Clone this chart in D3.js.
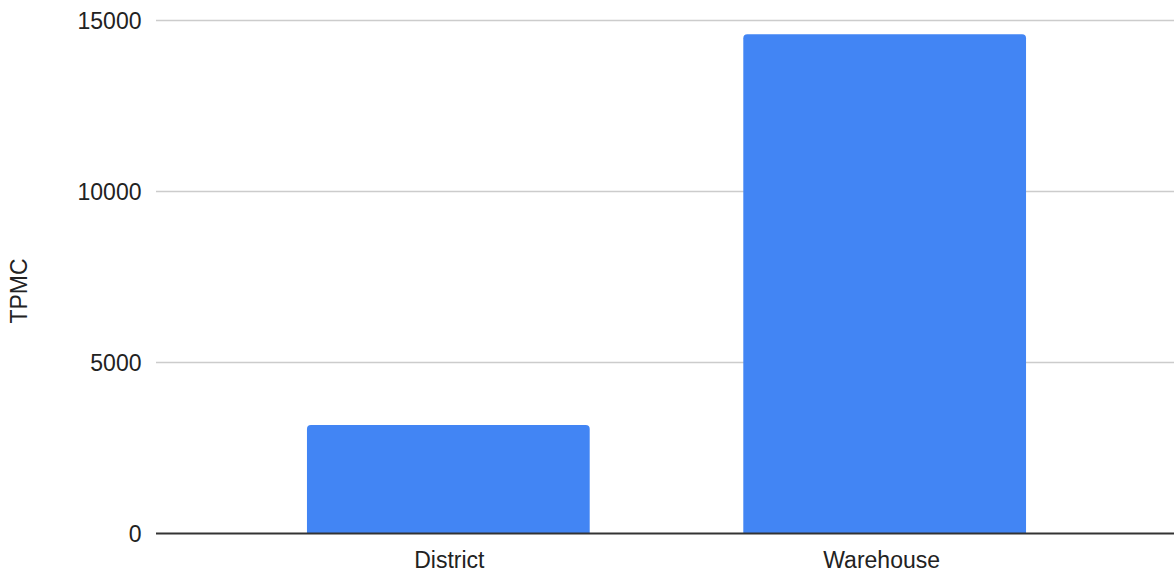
<!DOCTYPE html>
<html>
<head>
<meta charset="utf-8">
<script src="https://cdn.jsdelivr.net/npm/d3@7"></script>
<style>
html,body{margin:0;padding:0;background:#fff;}
svg{display:block;}
text{font-family:"Liberation Sans",Arial,sans-serif;fill:#222;}
</style>
</head>
<body>
<svg id="chart" width="1174" height="573"></svg>
<script>
const categories = ["District", "Warehouse"];
const tpmcValues = [3170, 14600];
const yTicks = [0, 5000, 10000, 15000];
const yLabel = "TPMC";

const svg = d3.select("#chart");
const W = 1174, H = 573;

const x = d3.scaleBand().domain(categories).range([156, 1177]).paddingInner(0.352).paddingOuter(0.346);
const y = d3.scaleLinear().domain([0, 15000]).range([533.5, 20.5]);

// gridlines
svg.append("g").selectAll("line").data(yTicks.filter(d => d !== 0)).join("line")
  .attr("x1", 156).attr("x2", W)
  .attr("y1", d => y(d)).attr("y2", d => y(d))
  .attr("stroke", "#cccccc").attr("stroke-width", 1.3);

// y tick labels
svg.append("g").selectAll("text").data(yTicks).join("text")
  .attr("x", 141.5).attr("y", d => y(d))
  .attr("text-anchor", "end").attr("dominant-baseline", "central")
  .style("font-size", "23px")
  .text(d => d);

// bars with rounded top corners
const r = 4;
function barPath(x0, w, yTop, yBase) {
  return `M${x0},${yBase} V${yTop + r} Q${x0},${yTop} ${x0 + r},${yTop} H${x0 + w - r} Q${x0 + w},${yTop} ${x0 + w},${yTop + r} V${yBase} Z`;
}
svg.append("g").selectAll("path").data(categories).join("path")
  .attr("d", (c, i) => barPath(x(c), x.bandwidth(), y(tpmcValues[i]), y(0)))
  .attr("fill", "#4285f4");

// baseline
svg.append("line").attr("x1", 156).attr("x2", W).attr("y1", y(0)).attr("y2", y(0))
  .attr("stroke", "#333333").attr("stroke-width", 1.8);

// x labels
svg.append("g").selectAll("text").data(categories).join("text")
  .attr("x", c => x(c) + x.bandwidth() / 2 + (c === "Warehouse" ? -3 : 1)).attr("y", 568)
  .attr("text-anchor", "middle")
  .style("font-size", "23px")
  .text(c => c);

// y axis title
svg.append("text")
  .attr("transform", `translate(27,291) rotate(-90)`)
  .attr("text-anchor", "middle")
  .style("font-size", "23px")
  .text(yLabel);
</script>
</body>
</html>
